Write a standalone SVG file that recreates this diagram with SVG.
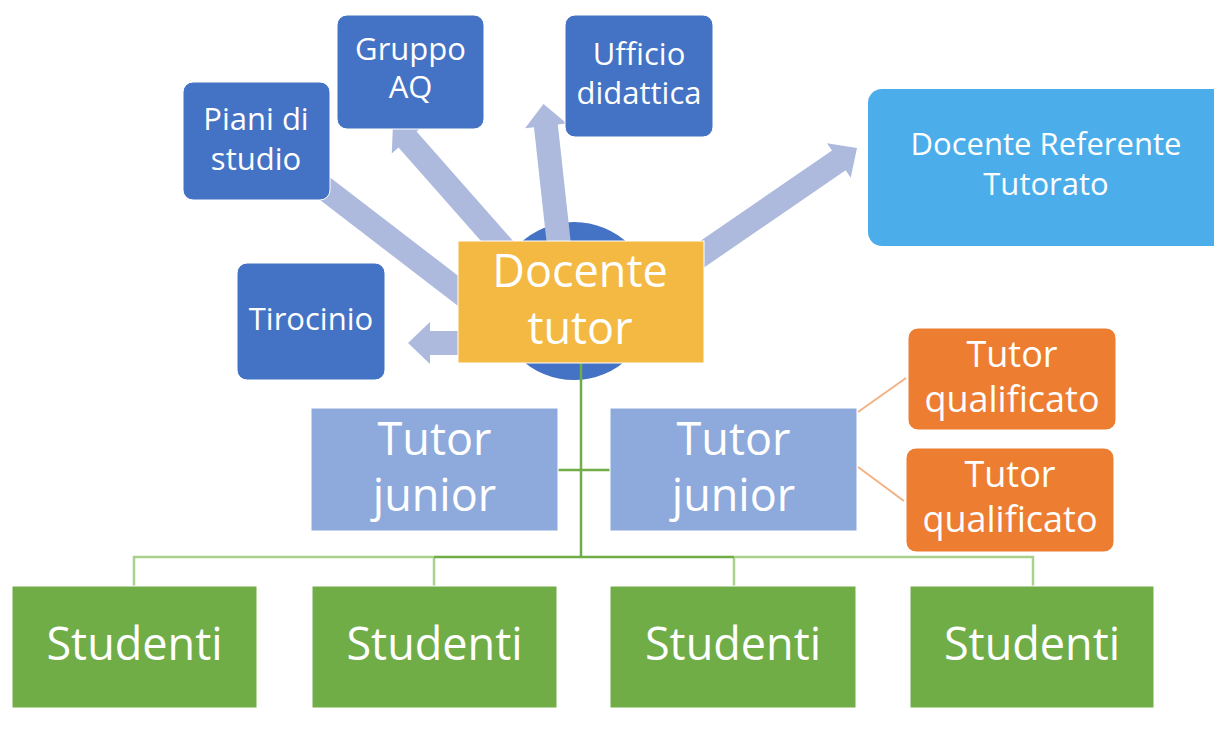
<svg xmlns="http://www.w3.org/2000/svg" width="1214" height="731" viewBox="0 0 1214 731">
<style>
.t{font-family:"Open Sans","Noto Sans","Liberation Sans",sans-serif;fill:#fff;text-anchor:middle}
.s{font-size:31px}
.m{font-size:36px}
.l{font-size:45px}
.blue{fill:#4472C4;stroke:#fff;stroke-width:1}
.arrow{fill:#ADBADD}
.g1{stroke:#70AD47;stroke-width:2.5;fill:none}
.g2{stroke:#A9D18E;stroke-width:2.5;fill:none}
.or{stroke:#F4B183;stroke-width:2;fill:none}
</style>
<rect width="1214" height="731" fill="#fff"/>
<circle id="hub" cx="574" cy="301" r="79" fill="#4472C4"/>
<g id="connectors">
  <path class="arrow" transform="translate(470,300) rotate(-142.5)" d="M0,-12 H204.8 V-21 L226.8,0 L204.8,21 V12 H0 Z"/>
  <path class="arrow" transform="translate(549,300) rotate(-131.4)" d="M0,-12 H213.9 V-21 L235.9,0 L213.9,21 V12 H0 Z"/>
  <path class="arrow" transform="translate(565,300) rotate(-96.26)" d="M0,-12 H175.2 V-21 L197.2,0 L175.2,21 V12 H0 Z"/>
  <path class="arrow" transform="translate(650,290) rotate(-34.45)" d="M0,-12 H229 V-21 L251,0 L229,21 V12 H0 Z"/>
  <path class="arrow" transform="translate(470,343) rotate(180)" d="M0,-12 H40 V-21 L62,0 L40,21 V12 H0 Z"/>
  <path class="g2" d="M134,586 V557 H434 M734,557 H1033 V586 M434,557 V586 M734,557 V586"/>
  <path class="g1" d="M581,363 V557 M434,557 H734 M558,470 H610"/>
  <path class="or" d="M858,412 L906,378 M858,467 L904,501"/>
</g>
<g id="piani"><rect class="blue" x="183" y="82" width="147" height="118" rx="10"/><text class="t s" x="256" y="130">Piani di</text><text class="t s" x="256" y="170">studio</text></g>
<g id="gruppo"><rect class="blue" x="337" y="15" width="147" height="114" rx="10"/><text class="t s" x="410.5" y="60">Gruppo</text><text class="t s" x="410.5" y="98">AQ</text></g>
<g id="ufficio"><rect class="blue" x="565" y="15" width="148" height="122" rx="10"/><text class="t s" x="639" y="65">Ufficio</text><text class="t s" x="639" y="104">didattica</text></g>
<g id="tirocinio"><rect class="blue" x="237" y="263" width="148" height="117" rx="10"/><text class="t s" x="311" y="330">Tirocinio</text></g>
<g id="referente"><rect x="868" y="89" width="360" height="157" rx="14" fill="#4BAEEB"/><text class="t s" x="1046" y="155">Docente Referente</text><text class="t s" x="1046" y="195">Tutorato</text></g>
<g id="docente"><rect x="458" y="241" width="246" height="122" fill="#F4B943" stroke="#fff" stroke-width="1"/><text class="t l" x="580" y="287">Docente</text><text class="t l" x="580" y="344">tutor</text></g>
<g id="junior1"><rect x="311" y="408" width="247" height="123" fill="#8EA9DB" stroke="#fff" stroke-width="1"/><text class="t l" x="434.5" y="455">Tutor</text><text class="t l" x="434.5" y="511">junior</text></g>
<g id="junior2"><rect x="610" y="408" width="247" height="123" fill="#8EA9DB" stroke="#fff" stroke-width="1"/><text class="t l" x="733.5" y="455">Tutor</text><text class="t l" x="733.5" y="511">junior</text></g>
<g id="qual1"><rect x="908" y="328" width="208" height="102" rx="10" fill="#ED7D31" stroke="#fff" stroke-width="1"/><text class="t m" x="1012" y="367">Tutor</text><text class="t m" x="1012" y="412">qualificato</text></g>
<g id="qual2"><rect x="906" y="448" width="208" height="104" rx="10" fill="#ED7D31" stroke="#fff" stroke-width="1"/><text class="t m" x="1010" y="487">Tutor</text><text class="t m" x="1010" y="532">qualificato</text></g>
<g id="studenti1"><rect x="12" y="586" width="245" height="122" fill="#70AD47" stroke="#fff" stroke-width="1"/><text class="t l" x="134.5" y="660">Studenti</text></g>
<g id="studenti2"><rect x="312" y="586" width="245" height="122" fill="#70AD47" stroke="#fff" stroke-width="1"/><text class="t l" x="434.5" y="660">Studenti</text></g>
<g id="studenti3"><rect x="610" y="586" width="246" height="122" fill="#70AD47" stroke="#fff" stroke-width="1"/><text class="t l" x="733" y="660">Studenti</text></g>
<g id="studenti4"><rect x="910" y="586" width="244" height="122" fill="#70AD47" stroke="#fff" stroke-width="1"/><text class="t l" x="1032" y="660">Studenti</text></g>
</svg>
